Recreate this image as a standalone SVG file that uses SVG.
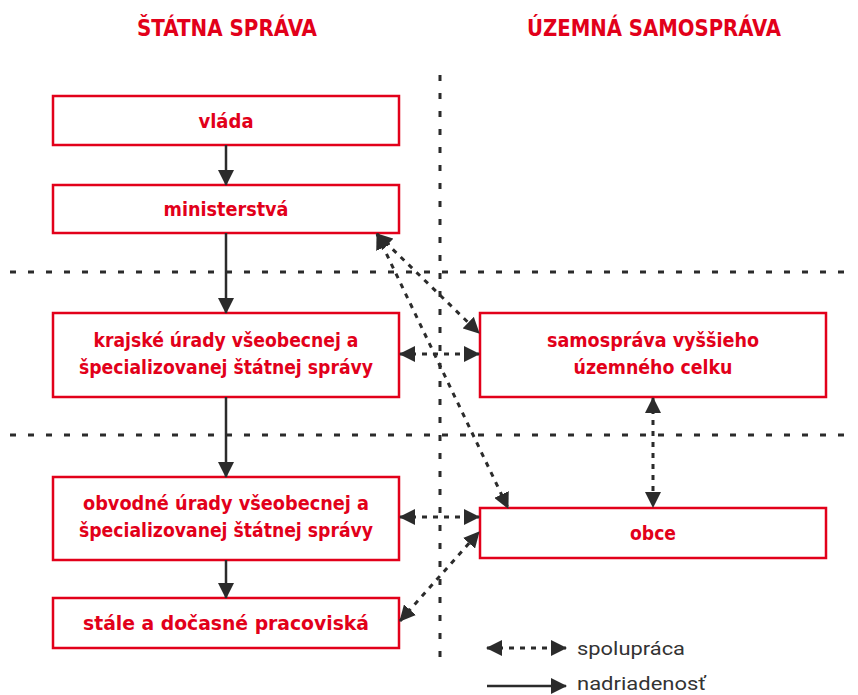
<svg xmlns="http://www.w3.org/2000/svg" width="858" height="695" viewBox="0 0 858 695">
<defs>
<style>
.box{fill:#fff;stroke:#e2001a;stroke-width:2.5}
.t{font-family:"Liberation Sans Narrow","DejaVu Sans Condensed","Roboto",sans-serif;font-weight:700;fill:#e2001a;font-size:20px;text-anchor:middle}
.h{font-family:"Liberation Sans Narrow","DejaVu Sans Condensed","Roboto",sans-serif;font-weight:700;fill:#e2001a;font-size:23px}
.lg{font-family:"Roboto","Liberation Sans",sans-serif;fill:#333;font-size:19px}
.grid{stroke:#2b2b2b;stroke-width:3;stroke-dasharray:6 12;fill:none}
.solid{stroke:#2b2b2b;stroke-width:2.5;fill:none;marker-end:url(#ah)}
.dash{stroke:#2b2b2b;stroke-width:3;stroke-dasharray:5 6;fill:none;marker-start:url(#ah);marker-end:url(#ah)}
</style>
<marker id="ah" markerUnits="userSpaceOnUse" markerWidth="16" markerHeight="16" refX="15" refY="8" orient="auto-start-reverse" viewBox="0 0 16 16">
<path d="M0,0 L16,8 L0,16 z" fill="#2b2b2b"/>
</marker>
</defs>
<rect width="858" height="695" fill="#fff"/>
<text class="h" x="137" y="36" textLength="180" lengthAdjust="spacingAndGlyphs">ŠTÁTNA SPRÁVA</text>
<text class="h" x="527" y="36" textLength="254" lengthAdjust="spacingAndGlyphs">ÚZEMNÁ SAMOSPRÁVA</text>
<g id="grid">
<line class="grid" x1="10" y1="272" x2="852" y2="272"/>
<line class="grid" x1="10" y1="435" x2="852" y2="435"/>
<line class="grid" x1="440" y1="75" x2="440" y2="665"/>
</g>
<g id="vlada"><rect class="box" x="53" y="96" width="346" height="49"/><text class="t" x="226" y="128">vláda</text></g>
<g id="ministerstva"><rect class="box" x="53" y="185" width="346" height="48"/><text class="t" x="226" y="216" textLength="125" lengthAdjust="spacingAndGlyphs">ministerstvá</text></g>
<g id="krajske"><rect class="box" x="53" y="313" width="346" height="84"/><text class="t" x="226" y="347" textLength="265" lengthAdjust="spacingAndGlyphs">krajské úrady všeobecnej a</text><text class="t" x="226" y="374" textLength="294" lengthAdjust="spacingAndGlyphs">špecializovanej štátnej správy</text></g>
<g id="obvodne"><rect class="box" x="53" y="477" width="346" height="83"/><text class="t" x="226" y="510" textLength="286" lengthAdjust="spacingAndGlyphs">obvodné úrady všeobecnej a</text><text class="t" x="226" y="537" textLength="294" lengthAdjust="spacingAndGlyphs">špecializovanej štátnej správy</text></g>
<g id="stale"><rect class="box" x="53" y="598" width="346" height="50"/><text class="t" x="226" y="630" textLength="286" lengthAdjust="spacingAndGlyphs">stále a dočasné pracoviská</text></g>
<g id="samosprava"><rect class="box" x="480" y="313" width="346" height="84"/><text class="t" x="653" y="347" textLength="212" lengthAdjust="spacingAndGlyphs">samospráva vyššieho</text><text class="t" x="653" y="374" textLength="159" lengthAdjust="spacingAndGlyphs">územného celku</text></g>
<g id="obce"><rect class="box" x="480" y="508" width="346" height="50"/><text class="t" x="653" y="540" textLength="46" lengthAdjust="spacingAndGlyphs">obce</text></g>
<g id="connectors">
<line class="solid" x1="226" y1="145" x2="226" y2="185"/>
<line class="solid" x1="226" y1="233" x2="226" y2="313"/>
<line class="solid" x1="226" y1="397" x2="226" y2="477"/>
<line class="solid" x1="226" y1="560" x2="226" y2="598"/>
<line class="dash" x1="377" y1="234" x2="479" y2="333"/>
<line class="dash" x1="377" y1="234" x2="508" y2="508"/>
<line class="dash" x1="400" y1="354" x2="479" y2="354"/>
<line class="dash" x1="400" y1="517" x2="479" y2="517"/>
<line class="dash" x1="400" y1="621" x2="479" y2="532"/>
<line class="dash" x1="653" y1="398" x2="653" y2="507"/>
</g>
<g id="legend">
<line class="dash" x1="487" y1="648" x2="566" y2="648"/>
<line class="solid" x1="487" y1="686" x2="566" y2="686"/>
<text class="lg" x="577" y="655" textLength="108" lengthAdjust="spacingAndGlyphs">spolupráca</text>
<text class="lg" x="577" y="690" textLength="129" lengthAdjust="spacingAndGlyphs">nadriadenosť</text>
</g>
</svg>
